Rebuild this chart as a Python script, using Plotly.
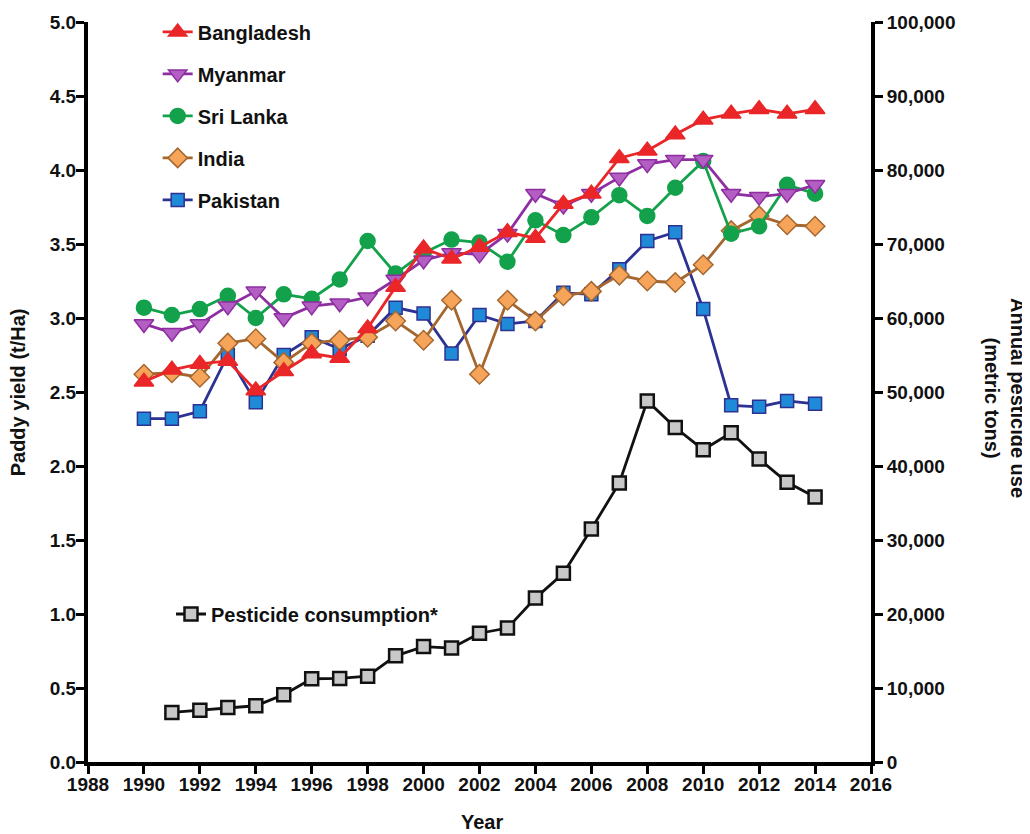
import plotly.graph_objects as go

years = list(range(1990, 2015))
pest_years = list(range(1991, 2015))

bangladesh = [2.57, 2.65, 2.69, 2.71, 2.51, 2.64, 2.76, 2.73, 2.93, 3.21, 3.47, 3.40, 3.48,
              3.58, 3.54, 3.77, 3.84, 4.08, 4.13, 4.24, 4.34, 4.38, 4.41, 4.38, 4.41]
myanmar = [2.96, 2.90, 2.96, 3.08, 3.18, 3.00, 3.08, 3.10, 3.14, 3.26, 3.39, 3.44, 3.43,
           3.57, 3.84, 3.76, 3.84, 3.95, 4.04, 4.07, 4.07, 3.84, 3.82, 3.84, 3.90]
sri_lanka = [3.07, 3.02, 3.06, 3.15, 3.00, 3.16, 3.13, 3.26, 3.52, 3.30, 3.44, 3.53, 3.51,
             3.38, 3.66, 3.56, 3.68, 3.83, 3.69, 3.88, 4.06, 3.57, 3.62, 3.90, 3.84]
india = [2.62, 2.63, 2.60, 2.83, 2.86, 2.70, 2.83, 2.85, 2.87, 2.98, 2.85, 3.12, 2.62,
         3.12, 2.98, 3.15, 3.18, 3.29, 3.25, 3.24, 3.36, 3.59, 3.69, 3.63, 3.62]
pakistan = [2.32, 2.32, 2.37, 2.75, 2.43, 2.75, 2.87, 2.79, 2.88, 3.07, 3.03, 2.76, 3.02,
            2.96, 2.98, 3.17, 3.16, 3.33, 3.52, 3.58, 3.06, 2.41, 2.40, 2.44, 2.42]
pesticide = [6700, 7000, 7350, 7600, 9100, 11250, 11300, 11600, 14350, 15600, 15400, 17400,
             18100, 22150, 25500, 31500, 37700, 48800, 45200, 42200, 44500, 40950, 37800, 35800]

x_ticks = list(range(1988, 2017, 2))

FONT = "Liberation Sans, Arial, Helvetica, sans-serif"

fig = go.Figure()

# drawn bottom-to-top; legendrank gives the legend order
series = [
    ("Pakistan", pakistan, "square", "#1f8ad8", "#2d3191", 13, 5),
    ("India", india, "diamond", "#f6a45a", "#a3672f", 15, 4),
    ("Sri Lanka", sri_lanka, "circle", "#13a24b", "#13a24b", 15, 3),
    ("Myanmar", myanmar, "triangle-down", "#b35ec2", "#8e2ea1", 17, 2),
    ("Bangladesh", bangladesh, "triangle-up", "#ea2629", "#ea2629", 17, 1),
]

for name, vals, sym, fill, line, size, rank in series:
    fig.add_trace(go.Scatter(
        x=years, y=vals, name=name, mode="lines+markers",
        line=dict(color=line, width=2.8),
        marker=dict(symbol=sym, size=size, color=fill, line=dict(color=line, width=1.5)),
        legendgroup=name, legendrank=rank, legend="legend",
    ))

fig.add_trace(go.Scatter(
    x=pest_years, y=pesticide, name="Pesticide consumption*", mode="lines+markers",
    line=dict(color="#111111", width=2.8),
    marker=dict(symbol="square", size=13, color="#c8c8c8", line=dict(color="#111111", width=2.5)),
    yaxis="y2", legend="legend2",
))

axis_common = dict(
    showline=True, linewidth=4, linecolor="#000000",
    ticks="outside", ticklen=8, tickwidth=3, tickcolor="#000000",
    showgrid=False, zeroline=False,
    tickfont=dict(family=FONT, size=19, color="#111111", weight="bold"),
)

fig.update_layout(
    width=1022, height=826,
    margin=dict(l=80, r=159, t=14, b=72, autoexpand=False),
    paper_bgcolor="white", plot_bgcolor="white",
    font=dict(family=FONT, color="#111111"),
    xaxis=dict(range=[1988, 2016], tickvals=x_ticks, ticklabelstandoff=-6, **axis_common),
    yaxis=dict(range=[0, 5], dtick=0.5, tickformat=".1f", ticklabelstandoff=-4, **axis_common),
    yaxis2=dict(range=[0, 100000], dtick=10000, tickformat=",", overlaying="y", side="right",
                **axis_common),
    legend=dict(x=0.089, y=1.013, xanchor="left", yanchor="top", traceorder="grouped",
                tracegroupgap=13, bgcolor="rgba(0,0,0,0)",
                font=dict(family=FONT, size=20, color="#111111", weight="bold")),
    legend2=dict(x=0.106, y=0.200, xanchor="left", yanchor="middle", bgcolor="rgba(0,0,0,0)",
                 font=dict(family=FONT, size=20, color="#111111", weight="bold")),
    annotations=[
        dict(text="<b>Paddy yield (t/Ha)</b>", x=-0.089, y=0.5, xref="paper", yref="paper",
             xanchor="center", yanchor="middle",
             textangle=-90, showarrow=False, font=dict(family=FONT, size=20, color="#111111")),
        dict(text="<b>Annual pesticide use<br>(metric tons)</b>", x=1.171, y=0.492,
             xref="paper", yref="paper", xanchor="center", yanchor="middle",
             textangle=90, showarrow=False,
             font=dict(family=FONT, size=20, color="#111111")),
        dict(text="<b>Year</b>", x=0.503, y=-0.081, xref="paper", yref="paper",
             xanchor="center", yanchor="middle",
             showarrow=False, font=dict(family=FONT, size=20, color="#111111")),
    ],
)

fig.write_html("out.html")
